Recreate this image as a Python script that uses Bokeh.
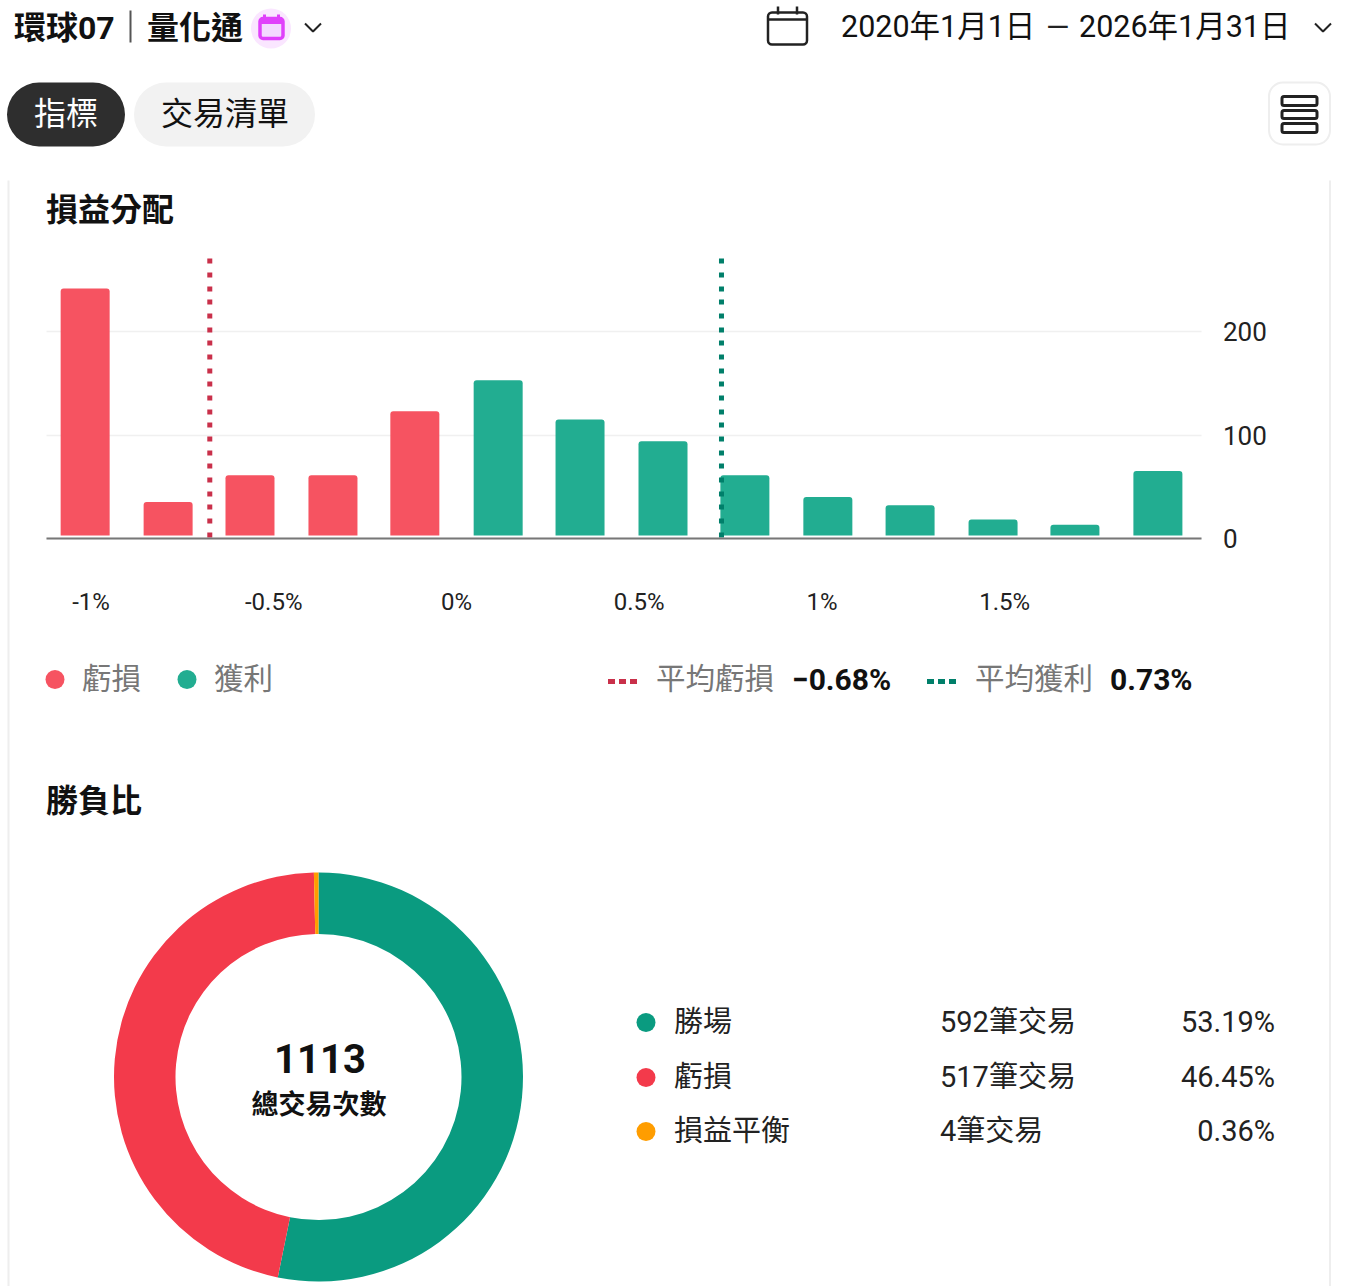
from bokeh.plotting import figure
from bokeh.models import Range1d, FixedTicker
from bokeh.core.properties import value
from bokeh.embed import file_html
from bokeh.resources import INLINE
import numpy as np

# ---- data ----
bin_centres = [-1.016, -0.789, -0.565, -0.338, -0.114, 0.114, 0.338, 0.565, 0.789, 1.016, 1.241, 1.468, 1.692, 1.919]
bin_counts = [242, 35, 61, 61, 123, 153, 115, 94, 61, 40, 32, 18, 13, 65]
x_ticks = [-1, -0.5, 0, 0.5, 1, 1.5]
x_tick_labels = ["-1%", "-0.5%", "0%", "0.5%", "1%", "1.5%"]
y_ticks = [0, 100, 200]
avg_loss = -0.675
avg_gain = 0.725
outcome_names = ["勝場", "虧損", "損益平衡"]
outcome_counts = [592, 517, 4]
outcome_trades = ["592筆交易", "517筆交易", "4筆交易"]
outcome_pcts = ["53.19%", "46.45%", "0.36%"]
total_trades = "1113"

# ---- styles ----
FONT = "Roboto, Noto Sans CJK TC"
RED, GREEN = "#f65361", "#22ad91"
DRED, DGREEN = "#c9304a", "#007f6a"
DONUT = ["#0a9b80", "#f33a4b", "#ff9d00"]
W, H = 1347, 1286
PXPER = 365.5
X0 = 456.5
YB = 537.7
YPER = 1.032


def xd(px):
    return (px - X0) / PXPER


def yd(py):
    return (YB - py) / YPER


p = figure(width=W, height=H, output_backend="svg", toolbar_location=None,
           x_range=Range1d(xd(0.5), xd(W + 0.5)), y_range=Range1d(yd(H), yd(0)),
           y_axis_location="right", min_border=0, outline_line_color=None,
           background_fill_color="white", border_fill_color="white")
p.extra_x_ranges["px"] = Range1d(0.5, W + 0.5)
p.extra_y_ranges["px"] = Range1d(H, 0)
PX = dict(x_range_name="px", y_range_name="px")

# axes
xa = p.xaxis[0]
xa.fixed_location = 0
xa.bounds = (xd(46), xd(1201))
xa.ticker = FixedTicker(ticks=x_ticks)
xa.major_label_overrides = dict(zip(x_ticks, x_tick_labels))
xa.major_tick_line_color = None
xa.minor_tick_line_color = None
xa.axis_line_color = "#777777"
xa.axis_line_width = 2
xa.major_label_standoff = 44
xa.major_label_text_font = FONT
xa.major_label_text_font_size = "24px"
xa.major_label_text_color = "#222222"

ya = p.yaxis[0]
ya.fixed_location = xd(1201)
ya.ticker = FixedTicker(ticks=y_ticks)
ya.axis_line_color = None
ya.major_tick_line_color = None
ya.minor_tick_line_color = None
ya.major_label_standoff = 16
ya.major_label_text_font = FONT
ya.major_label_text_font_size = "26px"
ya.major_label_text_color = "#222222"

p.xgrid.visible = False
p.ygrid[0].ticker = FixedTicker(ticks=y_ticks)
p.ygrid[0].grid_line_color = "#f0f0f0"
p.ygrid[0].grid_line_width = 1.5
p.ygrid[0].cross_bounds = (xd(46), xd(1201))


def txt(x, y, s, size, color="#111111", align="left", bold=False):
    p.text([x], [y], text=[s], text_font=value(FONT), text_font_size=f"{size}px", text_color=color,
           text_align=align, text_baseline="middle", text_font_style="bold" if bold else "normal", **PX)


def box(l, r, t, b, fill, line=None, lw=1, rad=0):
    p.quad(left=[l], right=[r], top=[t], bottom=[b], fill_color=fill, line_color=line, line_width=lw,
           border_radius=rad, **PX)


def ln(xs, ys, color, w=2, dash="solid"):
    p.line(xs, ys, line_color=color, line_width=w, line_dash=dash, **PX)


# card borders
ln([8.5, 8.5], [180, 1286], "#eeeeee", 2)
ln([1330, 1330], [180, 1286], "#eeeeee", 2)

# header
txt(14, 27, "環球07", 32, bold=True)
ln([130.5, 130.5], [10, 42], "#555555", 2)
txt(147, 27, "量化通", 32, bold=True)
p.circle([271], [28], radius=20, fill_color="#fae6ff", line_color=None, **PX)
box(260, 283, 18, 38, "#f3d9ff", "#e040fb", 3.5, 3)
ln([260, 283], [21, 21], "#e040fb", 5)
ln([264.5, 264.5], [14, 19], "#e040fb", 3)
ln([278.5, 278.5], [14, 19], "#e040fb", 3)
ln([305, 313, 321], [23, 31, 23], "#222222", 2)
box(768, 807, 12, 44, "white", "#222222", 2.5, 4)
ln([768, 807], [19, 19], "#222222", 2.5)
ln([778, 778], [6, 14], "#222222", 2.5)
ln([797, 797], [6, 14], "#222222", 2.5)
txt(841, 26, "2020年1月1日", 30.5)
txt(1046, 26, "—", 30, color="#222222")
txt(1079, 26, "2026年1月31日", 30.5)
ln([1315, 1323, 1331], [23, 31, 23], "#222222", 2)
box(7, 125, 82, 146, "#2e2e2e", rad=32)
txt(66, 113, "指標", 32, "#ffffff", "center")
box(134, 315, 82, 146, "#f2f2f2", rad=32)
txt(225, 113, "交易清單", 32, "#111111", "center")
box(1269, 1330, 82, 144, "#ffffff", "#eeeeee", 2, 14)
for t, b in ((96, 105), (110, 118), (123, 132)):
    box(1282, 1317, t, b, "#ffffff", "#222222", 3, 2)

# titles
txt(46, 209, "損益分配", 32, bold=True)
txt(46, 800, "勝負比", 32, bold=True)

# histogram
bar_colors = [RED if c < 0 else GREEN for c in bin_centres]
p.vbar(x=bin_centres, top=bin_counts, bottom=2.6, width=49 / PXPER, fill_color=bar_colors, line_color=None,
       border_radius=(3, 3, 0, 0))
ytop = yd(258)
DOTS = [5, 9, 5, 9, 5, 8]
p.line([avg_loss, avg_loss], [ytop, 0], line_color=DRED, line_width=5, line_dash=DOTS)
p.line([avg_gain, avg_gain], [ytop, 0], line_color=DGREEN, line_width=5, line_dash=DOTS)

# histogram legend
p.circle([55], [679], radius=9.5, fill_color=RED, line_color=None, **PX)
txt(82, 678, "虧損", 29.5, "#777777")
p.circle([187], [679], radius=9.5, fill_color=GREEN, line_color=None, **PX)
txt(214, 678, "獲利", 29.5, "#777777")
ln([608, 637], [681, 681], DRED, 5, [7, 4])
txt(656, 678, "平均虧損", 29.5, "#777777")
txt(792, 679, "−0.68%", 30, bold=True)
ln([927, 956], [681, 681], DGREEN, 5, [7, 4])
txt(975, 678, "平均獲利", 29.5, "#777777")
txt(1110, 679, "0.73%", 30, bold=True)

# donut
cum = np.cumsum([0] + outcome_counts) / sum(outcome_counts) * 2 * np.pi
p.annular_wedge(x=[318.5] * 3, y=[1076.5] * 3, inner_radius=143, outer_radius=204.5,
                start_angle=list(np.pi / 2 - cum[:-1]), end_angle=list(np.pi / 2 - cum[1:]),
                direction="clock", fill_color=DONUT, line_color=None, **PX)
txt(320, 1058, total_trades, 40, "#111111", "center", True)
txt(319, 1104, "總交易次數", 27, "#111111", "center", True)

# donut table
for name, trades, pct, col, yy in zip(outcome_names, outcome_trades, outcome_pcts, DONUT, (1021, 1076, 1130)):
    p.circle([646], [yy + 1], radius=9.5, fill_color=col, line_color=None, **PX)
    txt(674, yy, name, 29, "#222222")
    txt(940, yy, trades, 29, "#222222")
    txt(1275, yy, pct, 29, "#222222", "right")

open("out.html", "w").write(file_html(p, INLINE))
